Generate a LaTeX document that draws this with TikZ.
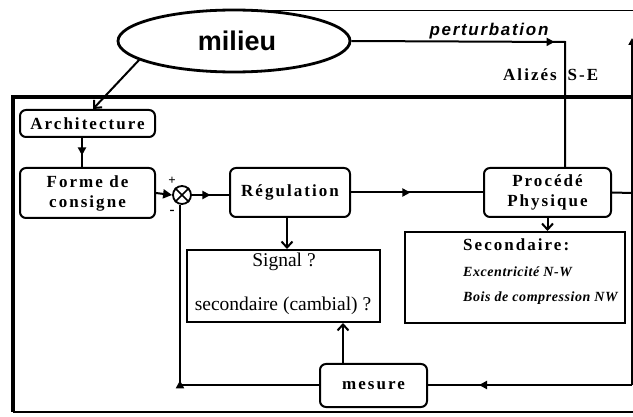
\documentclass[tikz,border=0pt]{standalone}
\usepackage{fontspec}
\setmainfont{Liberation Serif}
\newfontfamily\milfont{Liberation Sans}
\newfontfamily\boxfont{Liberation Serif}[LetterSpace=12]
\newfontfamily\pertfont{Liberation Sans}[LetterSpace=10]
\newfontfamily\smallfont{Liberation Serif}[LetterSpace=4]
\usetikzlibrary{shapes.geometric,decorations.markings,arrows.meta}
\tikzset{
  ln/.style={line width=2pt},
  bfnt/.style={font={\boxfont\bfseries\fontsize{17}{20}\selectfont}},
  rbox/.style={draw, line width=2pt, rounded corners=6pt, inner sep=0pt, align=center, bfnt},
  sbox/.style={draw, line width=2pt, inner sep=0pt},
  midarrow/.style={postaction={decorate}, decoration={markings, mark=at position #1 with {\arrow{Triangle[length=8pt,width=8pt]}}}},
  barb/.style={-{Straight Barb[length=6pt,width=11pt,line width=2pt]}},
  txt/.style={inner sep=0pt}
}
\begin{document}
\begin{tikzpicture}[x=1pt,y=-1pt]
\useasboundingbox (0,0) rectangle (633,417);
% frame
\draw[line width=0.8pt] (234,10) -- (633,10);
\draw[line width=3.5pt] (633,97) -- (13,97) -- (13,412);
\draw[line width=1.2pt] (13,412) -- (633,412);
% nodes
\node[draw, ellipse, line width=2.8pt, minimum width=232pt, minimum height=62pt, inner sep=0pt] (mil) at (234,41) {};
\node[txt] at (237,41) {\milfont\bfseries\fontsize{27}{30}\selectfont milieu};
\node[rbox, minimum width=135pt, minimum height=27pt] (arch) at (87.5,123.5) {Architecture};
\node[rbox, minimum width=135pt, minimum height=50pt] (forme) at (87.5,193) {Forme de\\consigne};
\node[rbox, minimum width=120pt, minimum height=49pt] (reg) at (290,192.5) {Régulation};
\node[rbox, minimum width=127pt, minimum height=49pt] (proc) at (547.5,192.5) {Procédé\\Physique};
\node[sbox, minimum width=220pt, minimum height=91pt] (sec) at (515,277.5) {};
\node[txt, anchor=west, bfnt] at (463,245) {Secondaire:};
\node[txt, anchor=west] at (463,272) {\smallfont\bfseries\itshape\fontsize{14}{15}\selectfont Excentricité N-W};
\node[txt, anchor=west] at (463,298) {\smallfont\bfseries\itshape\fontsize{14}{15}\selectfont Bois de compression NW};
\node[sbox, minimum width=193pt, minimum height=72pt] (sig) at (283.5,286) {};
\node[txt] at (284,262) {\fontsize{19.5}{22}\selectfont Signal ?};
\node[txt] at (283,306) {\fontsize{19.5}{22}\selectfont secondaire (cambial) ?};
\node[rbox, minimum width=107pt, minimum height=43pt] (mes) at (373.5,385.5) {mesure};
\node[draw, circle, line width=1.8pt, minimum size=18pt, inner sep=0pt] (sum) at (182,195) {};
\draw[line width=1.6pt] (sum.north west) -- (sum.south east) (sum.north east) -- (sum.south west);
\node[txt] at (172,181) {\bfseries\fontsize{13}{13}\selectfont +};
\node[txt] at (172,212) {\bfseries\fontsize{15}{15}\selectfont -};
\node[txt] at (489,31) {\pertfont\bfseries\itshape\fontsize{17}{20}\selectfont perturbation};
\node[txt, bfnt] at (530,75) {Alizés};
\node[txt, bfnt] at (583,75) {S-E};
% coordinates
\coordinate (m1) at (140,59);
\coordinate (pc) at (565,42);
\coordinate (out) at (632,193);
\coordinate (outtop) at (632,38);
\coordinate (fbr) at (632,385);
\coordinate (fbl) at (180,385);
% connectors
\draw[ln, barb] (m1) -- (arch.north -| 93,0);
\draw[ln, midarrow=0.6] (mil.east) -- (pc) -- (pc |- proc.north);
\draw[ln, midarrow=0.6] (arch.south -| 82,0) -- (forme.north -| 82,0);
\draw[ln, -{Triangle[length=9pt,width=9pt]}] (forme.east) -- (sum.west);
\draw[ln, midarrow=0.5] (sum.east) -- (reg.west |- sum.east);
\draw[ln, midarrow=0.45] (reg.east) -- (proc.west);
\draw[ln, barb] (reg.south -| 287,0) -- (sig.north -| 287,0);
\draw[ln, barb] (proc.south) -- (sec.north -| proc.south);
\draw[ln] (proc.east) -- (out);
\draw[ln, -{Triangle[length=7pt,width=7pt]}] (fbr) -- (outtop);
\draw[ln, midarrow=0.75] (fbr) -- (mes.east |- fbr);
\draw[ln, midarrow=0.45] (mes.west |- fbl) -- (fbl) -- (fbl |- sum.south);
\draw[ln, barb] (mes.north -| 343,0) -- (sig.south -| 343,0);
\end{tikzpicture}
\end{document}
